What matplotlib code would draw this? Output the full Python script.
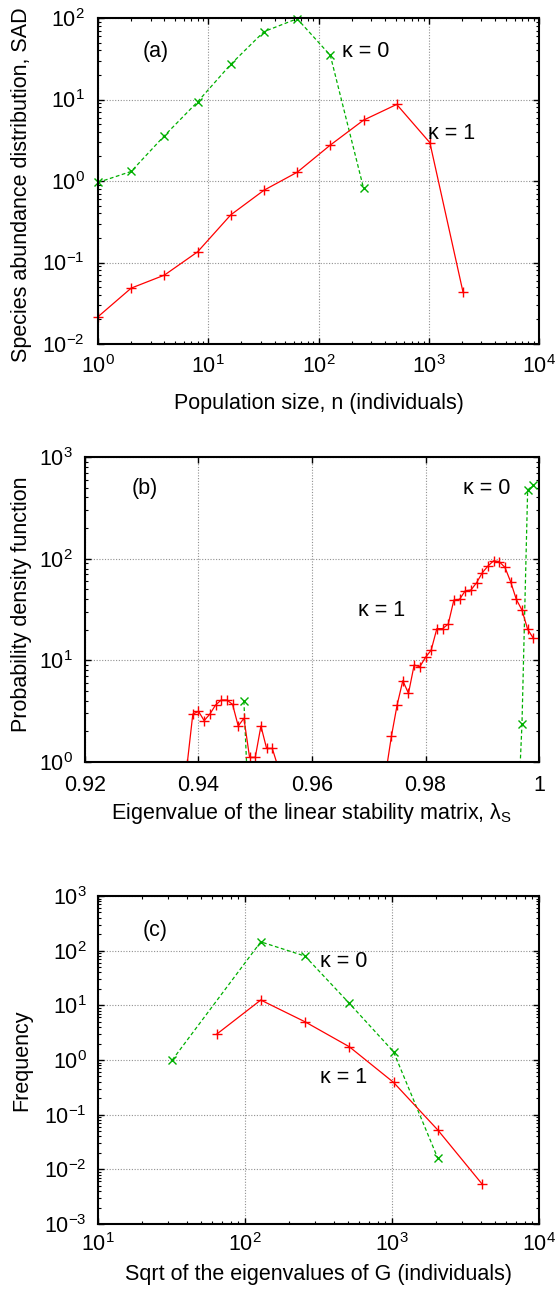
import numpy as np
import matplotlib
matplotlib.use('Agg')
import matplotlib.pyplot as plt
from matplotlib.ticker import LogLocator, FixedLocator, FixedFormatter, NullFormatter, LogFormatterSciNotation

plt.rcParams['font.family'] = ['Liberation Sans', 'DejaVu Sans']
plt.rcParams['mathtext.fontset'] = 'custom'
plt.rcParams['mathtext.rm'] = 'Liberation Sans'
plt.rcParams['mathtext.it'] = 'Liberation Sans:italic'
plt.rcParams['mathtext.bf'] = 'Liberation Sans:bold'

# ---------------- data ----------------
# (a) species abundance distribution
a_n_k0 = [1, 2, 4, 8, 16, 32, 64, 128, 256]
a_sad_k0 = [0.96, 1.31, 3.59, 9.35, 27.0, 68.0, 98.0, 34.8, 0.82]
a_n_k1 = [1, 2, 4, 8, 16, 32, 64, 128, 256, 512, 1024, 2048]
a_sad_k1 = [0.0216, 0.0485, 0.070, 0.135, 0.384, 0.77, 1.28, 2.76, 5.58, 8.7, 2.95, 0.043]

# (b) probability density of eigenvalues (0 = no data, as on a log axis)
b_lam_k1 = [0.937, 0.938, 0.939, 0.940, 0.941, 0.942, 0.943, 0.944, 0.945, 0.946,
            0.947, 0.948, 0.949, 0.950, 0.951, 0.952, 0.953, 0.954, 0.955,
            0.972, 0.973, 0.974, 0.975, 0.976, 0.977, 0.978, 0.979, 0.980, 0.981,
            0.982, 0.983, 0.984, 0.985, 0.986, 0.987, 0.988, 0.989, 0.990, 0.991,
            0.992, 0.993, 0.994, 0.995, 0.996, 0.997, 0.998, 0.999]
b_pdf_k1 = [0, 0.95, 2.96, 3.15, 2.55, 2.96, 3.63, 4.07, 4.07, 3.69,
            2.26, 2.69, 1.11, 1.11, 2.26, 1.36, 1.36, 0.9, 0,
            0, 0.78, 1.80, 3.64, 6.30, 4.74, 8.99, 8.65, 10.7, 12.6,
            20.5, 20.5, 22.7, 39.2, 39.8, 48.3, 49.1, 58.0, 72.6, 84.6,
            95.3, 93.2, 82.1, 59.3, 39.8, 31.2, 20.2, 16.5]
b_lam_k0 = [0.947, 0.948, 0.949, 0.950, 0.995, 0.996, 0.997, 0.998, 0.999]
b_pdf_k0 = [0, 3.98, 0.2, 0, 0, 0.13, 2.36, 473.0, 529.0]

# (c) frequency of sqrt of eigenvalues of G
c_g_k0 = [32, 128, 256, 512, 1024, 2048]
c_f_k0 = [1.0, 145.0, 79.6, 10.9, 1.42, 0.016]
c_g_k1 = [64, 128, 256, 512, 1024, 2048, 4096]
c_f_k1 = [2.95, 12.5, 5.0, 1.75, 0.39, 0.0525, 0.0054]

b_xticks = [0.92, 0.94, 0.96, 0.98, 1.0]
b_xticklabels = ['0.92', '0.94', '0.96', '0.98', '1']

RED = '#ff0000'
GREEN = '#00b000'
FS = 15.5

fig = plt.figure(figsize=(5.57, 12.98), dpi=100)
W, H = 557.0, 1298.0

def make_axes(l, r, t, b):
    return fig.add_axes([l / W, 1 - b / H, (r - l) / W, (b - t) / H])

def style(ax, xpad=8, ypad=9):
    for s in ax.spines.values():
        s.set_linewidth(1.5)
    ax.tick_params(which='both', direction='in', top=True, right=True, labelsize=FS)
    ax.tick_params(which='major', length=4.5, width=1.0)
    ax.tick_params(which='minor', length=2.5, width=0.8)
    ax.tick_params(axis='x', which='major', pad=xpad)
    ax.tick_params(axis='y', which='major', pad=ypad)
    ax.grid(True, which='major', linestyle=(0, (1, 1.5)), color='#909090', linewidth=0.8)
    ax.set_axisbelow(True)

def pos(v):
    v = np.asarray(v, dtype=float)
    return np.where(v > 0, v, np.nan)

def logaxis(axis):
    axis.set_major_locator(LogLocator(base=10, numticks=20))
    axis.set_minor_locator(LogLocator(base=10, subs=np.arange(2, 10), numticks=20))
    axis.set_minor_formatter(NullFormatter())
    axis.set_major_formatter(LogFormatterSciNotation())

line_k1 = dict(color=RED, linestyle='-', linewidth=0.9, marker='+', markersize=7, markeredgewidth=1.0)
line_k0 = dict(color=GREEN, linestyle=(0, (3, 2)), linewidth=0.9, marker='x', markersize=6, markeredgewidth=1.0)

# ---------- (a) ----------
ax = make_axes(98, 539, 18, 344)
ax.set_xscale('log'); ax.set_yscale('log')
ax.plot(a_n_k0, pos(a_sad_k0), clip_on=False, **line_k0)
ax.plot(a_n_k1, pos(a_sad_k1), clip_on=False, **line_k1)
ax.set_xlim(1, 1e4); ax.set_ylim(1e-2, 1e2)
logaxis(ax.xaxis); logaxis(ax.yaxis)
style(ax, xpad=8, ypad=9.5)
ax.set_xlabel('Population size, n (individuals)', fontsize=FS)
ax.set_ylabel('Species abundance distribution, SAD', fontsize=FS)
ax.xaxis.set_label_coords(0.5, -0.150)
ax.yaxis.set_label_coords(-0.150, 0.49)
ax.text(0.130, 0.896, '(a)', transform=ax.transAxes, fontsize=FS, ha='center', va='center')
ax.text(0.553, 0.896, 'κ = 0', transform=ax.transAxes, fontsize=FS, ha='left', va='center')
ax.text(0.748, 0.647, 'κ = 1', transform=ax.transAxes, fontsize=FS, ha='left', va='center')

# ---------- (b) ----------
ax = make_axes(85, 539, 457, 762)
ax.set_yscale('log')
ax.plot(b_lam_k0, pos(b_pdf_k0), **line_k0)
ax.plot(b_lam_k1, pos(b_pdf_k1), **line_k1)
ax.set_xlim(0.92, 1.0); ax.set_ylim(1, 1e3)
ax.xaxis.set_major_locator(FixedLocator(b_xticks))
ax.xaxis.set_major_formatter(FixedFormatter(b_xticklabels))
logaxis(ax.yaxis)
style(ax, xpad=9, ypad=8.6)
ax.set_xlabel('Eigenvalue of the linear stability matrix, λ$_\\mathrm{S}$', fontsize=FS)
ax.set_ylabel('Probability density function', fontsize=FS)
ax.xaxis.set_label_coords(0.5, -0.128)
ax.yaxis.set_label_coords(-0.117, 0.516)
ax.text(0.131, 0.898, '(b)', transform=ax.transAxes, fontsize=FS, ha='center', va='center')
ax.text(0.833, 0.898, 'κ = 0', transform=ax.transAxes, fontsize=FS, ha='left', va='center')
ax.text(0.601, 0.498, 'κ = 1', transform=ax.transAxes, fontsize=FS, ha='left', va='center')

# ---------- (c) ----------
ax = make_axes(98, 539, 896, 1224)
ax.set_xscale('log'); ax.set_yscale('log')
ax.plot(c_g_k0, pos(c_f_k0), **line_k0)
ax.plot(c_g_k1, pos(c_f_k1), **line_k1)
ax.set_xlim(10, 1e4); ax.set_ylim(1e-3, 1e3)
logaxis(ax.xaxis); logaxis(ax.yaxis)
style(ax, xpad=6.5, ypad=8)
ax.set_xlabel('Sqrt of the eigenvalues of G (individuals)', fontsize=FS)
ax.set_ylabel('Frequency', fontsize=FS)
ax.xaxis.set_label_coords(0.5, -0.122)
ax.yaxis.set_label_coords(-0.150, 0.5)
ax.text(0.129, 0.896, '(c)', transform=ax.transAxes, fontsize=FS, ha='center', va='center')
ax.text(0.503, 0.800, 'κ = 0', transform=ax.transAxes, fontsize=FS, ha='left', va='center')
ax.text(0.503, 0.448, 'κ = 1', transform=ax.transAxes, fontsize=FS, ha='left', va='center')

fig.savefig('out.png', dpi=100)
